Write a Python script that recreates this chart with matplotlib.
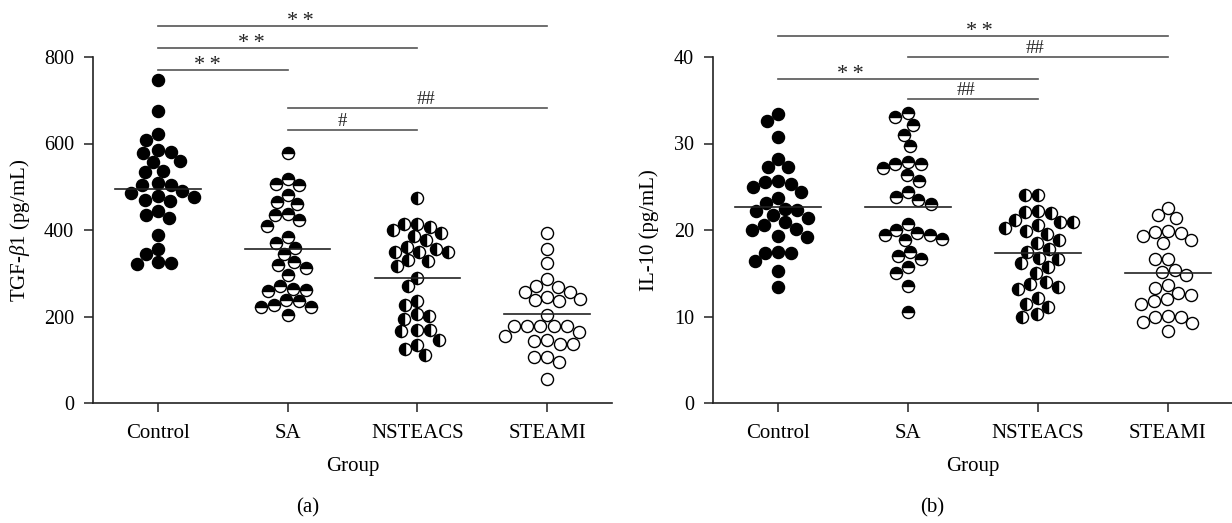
import numpy as np
import matplotlib
matplotlib.use("Agg")
import matplotlib.pyplot as plt

plt.rcParams['font.family'] = ['Liberation Serif', 'DejaVu Serif']
plt.rcParams['mathtext.fontset'] = 'custom'
plt.rcParams['mathtext.rm'] = 'Liberation Serif'
plt.rcParams['mathtext.it'] = 'Liberation Serif:italic'

# ---------------- data ----------------
groups = ["Control", "SA", "NSTEACS", "STEAMI"]

tgf_control = [747, 675, 621, 607, 585, 578, 580, 557, 560, 533, 537, 504, 504, 509, 478,
               490, 486, 466, 469, 476, 445, 428, 434, 389, 357, 344, 325, 322, 323]
tgf_sa = [577, 519, 504, 506, 481, 464, 461, 436, 434, 422, 410, 383, 369, 359, 345, 326,
          318, 312, 295, 270, 261, 260, 264, 236, 239, 222, 223, 226, 203]
tgf_nsteacs = [474, 413, 407, 415, 386, 392, 400, 378, 361, 349, 348, 348, 357, 331, 316,
               328, 290, 270, 226, 236, 206, 195, 202, 169, 166, 169, 146, 135, 125, 110]
tgf_steami = [393, 355, 324, 286, 270, 268, 257, 256, 246, 237, 235, 240, 204, 178, 177,
              179, 179, 179, 156, 164, 146, 137, 137, 144, 107, 106, 94, 56]
tgf_means = [494.6, 355.5, 289.0, 205.6]

il_control = [33.4, 32.6, 30.7, 28.2, 27.3, 27.3, 25.7, 25.3, 25.5, 24.4, 25.0, 23.7, 23.1,
              22.4, 22.2, 21.7, 22.3, 21.4, 20.6, 20.0, 19.2, 19.3, 20.1, 20.9, 17.3, 17.3,
              17.4, 16.4, 15.3, 13.4]
il_sa = [33.1, 33.5, 32.1, 31.0, 29.7, 27.9, 27.6, 27.2, 27.6, 26.4, 25.7, 24.4, 23.8, 23.5,
         23.0, 20.7, 20.0, 19.0, 19.4, 19.4, 19.6, 18.9, 17.5, 17.0, 16.7, 15.7, 15.0, 13.5, 10.5]
il_nsteacs = [24.1, 24.1, 22.2, 22.0, 22.1, 20.6, 21.1, 20.9, 20.9, 19.9, 19.5, 20.2, 18.9,
              18.5, 17.5, 16.7, 15.7, 16.2, 16.8, 17.8, 15.0, 14.0, 13.4, 13.2, 13.7, 12.1,
              11.1, 10.0, 10.3, 11.4]
il_steami = [22.6, 21.4, 21.7, 19.9, 19.7, 18.8, 18.5, 19.3, 19.8, 16.7, 15.4, 14.8, 15.2,
             16.6, 13.3, 12.5, 11.8, 11.4, 12.0, 12.7, 13.6, 10.0, 9.4, 8.3, 9.2, 10.0, 10.1]
il_means = [22.65, 22.7, 17.35, 15.07]

tgf_yticks = [0, 200, 400, 600, 800]
il_yticks = [0, 10, 20, 30, 40]

# significance comparisons: (group_from, group_to, line level, label, label x)
tgf_sig = [(1, 4, 871, "*\u2009*", 2.10), (1, 3, 821, "*\u2009*", 1.72),
           (1, 2, 770, "*\u2009*", 1.38), (2, 4, 682, "##", 3.07), (2, 3, 631, "#", 2.42)]
il_sig = [(1, 4, 42.4, "*\u2009*", 2.55), (2, 4, 40.0, "##", 2.98),
          (1, 3, 37.5, "*\u2009*", 1.56), (2, 3, 35.1, "##", 2.45)]

# ---------------- styles ----------------
marker_styles = [
    dict(marker='o', markerfacecolor='black', markeredgecolor='black', fillstyle='full'),
    dict(marker='o', markerfacecolor='black', markerfacecoloralt='white',
         markeredgecolor='black', fillstyle='top'),
    dict(marker='o', markerfacecolor='black', markerfacecoloralt='white',
         markeredgecolor='black', fillstyle='left'),
    dict(marker='o', markerfacecolor='white', markeredgecolor='black', fillstyle='full'),
]

fig = plt.figure(figsize=(12.32, 5.23), dpi=100)
axL = fig.add_axes([93 / 1232, 120 / 523, 519 / 1232, 346 / 523])
axR = fig.add_axes([713 / 1232, 120 / 523, 520 / 1232, 346 / 523])


def swarm_offsets(ax, xc, ys, d):
    pts = ax.transData.transform(np.column_stack([np.full(len(ys), xc), ys]))
    ppx = ax.transData.transform([[xc + 1, 0]])[0][0] - ax.transData.transform([[xc, 0]])[0][0]
    order = np.argsort(-np.asarray(ys), kind='stable')
    placed = []
    offs = np.zeros(len(ys))
    for i in order:
        py = pts[i][1]
        cands = [0.0]
        for (qo, qy) in placed:
            dy = py - qy
            if abs(dy) < d:
                dx = np.sqrt(d * d - dy * dy)
                cands += [qo + dx, qo - dx]
        cands = sorted(cands, key=lambda c: (abs(c), c))
        chosen = cands[-1]
        for c in cands:
            ok = True
            for (qo, qy) in placed:
                if (c - qo) ** 2 + (py - qy) ** 2 < d * d - 1e-6:
                    ok = False
                    break
            if ok:
                chosen = c
                break
        placed.append((chosen, py))
        offs[i] = chosen / ppx
    return offs


def draw_panel(ax, series, means, ylim, yticks, ylabel, sig, labcoord):
    ax.set_xlim(0.5, 4.5)
    ax.set_ylim(*ylim)
    for sp in ['top', 'right']:
        ax.spines[sp].set_visible(False)
    for sp in ['left', 'bottom']:
        ax.spines[sp].set_linewidth(1.2)
        ax.spines[sp].set_color('#222222')
    ax.set_xticks(range(1, 5))
    ax.set_xticklabels(groups, fontsize=15)
    ax.set_yticks(yticks)
    ax.set_yticklabels([str(t) for t in yticks], fontsize=14.5)
    ax.tick_params(axis='both', direction='out', length=6.5, width=1.1, color='#222222')
    ax.tick_params(axis='x', pad=8.5)
    ax.tick_params(axis='y', pad=7)
    ax.set_xlabel("Group", fontsize=15)
    ax.xaxis.set_label_coords(0.5, -0.155)
    ax.set_ylabel(ylabel, fontsize=15)
    ax.yaxis.set_label_coords(labcoord, 0.5)

    for k, ys in enumerate(series):
        xc = k + 1
        offs = swarm_offsets(ax, xc, ys, 13.0)
        ax.plot(xc + offs, ys, linestyle='none', markersize=8.7, markeredgewidth=1.0,
                clip_on=False, zorder=3, **marker_styles[k])
        ax.plot([xc - 0.33, xc + 0.33], [means[k], means[k]], color='#222222', lw=1.2,
                zorder=4)

    for (g1, g2, lev, lab, tx) in sig:
        ax.plot([g1, g2], [lev, lev], color='#555555', lw=1.2, clip_on=False)
        if '*' in lab:
            dy, fs = 0.0, 16
        else:
            dy, fs = 3.0, 13.5
        ax.annotate(lab, xy=(tx, lev), xytext=(0, dy), textcoords='offset points',
                    ha='center', va='baseline', fontsize=fs, color='#222222',
                    annotation_clip=False)


fig.canvas.draw()
draw_panel(axL, [tgf_control, tgf_sa, tgf_nsteacs, tgf_steami], tgf_means, (0, 800),
           tgf_yticks, r"TGF-$\it{\beta}$1 (pg/mL)", tgf_sig, -0.1175)
draw_panel(axR, [il_control, il_sa, il_nsteacs, il_steami], il_means, (0, 40),
           il_yticks, "IL-10 (pg/mL)", il_sig, -0.104)

fig.text(308 / 1232, 1 - 508 / 523, "(a)", ha='center', va='center', fontsize=15)
fig.text(932 / 1232, 1 - 508 / 523, "(b)", ha='center', va='center', fontsize=15)

fig.savefig("out.png", dpi=100)
